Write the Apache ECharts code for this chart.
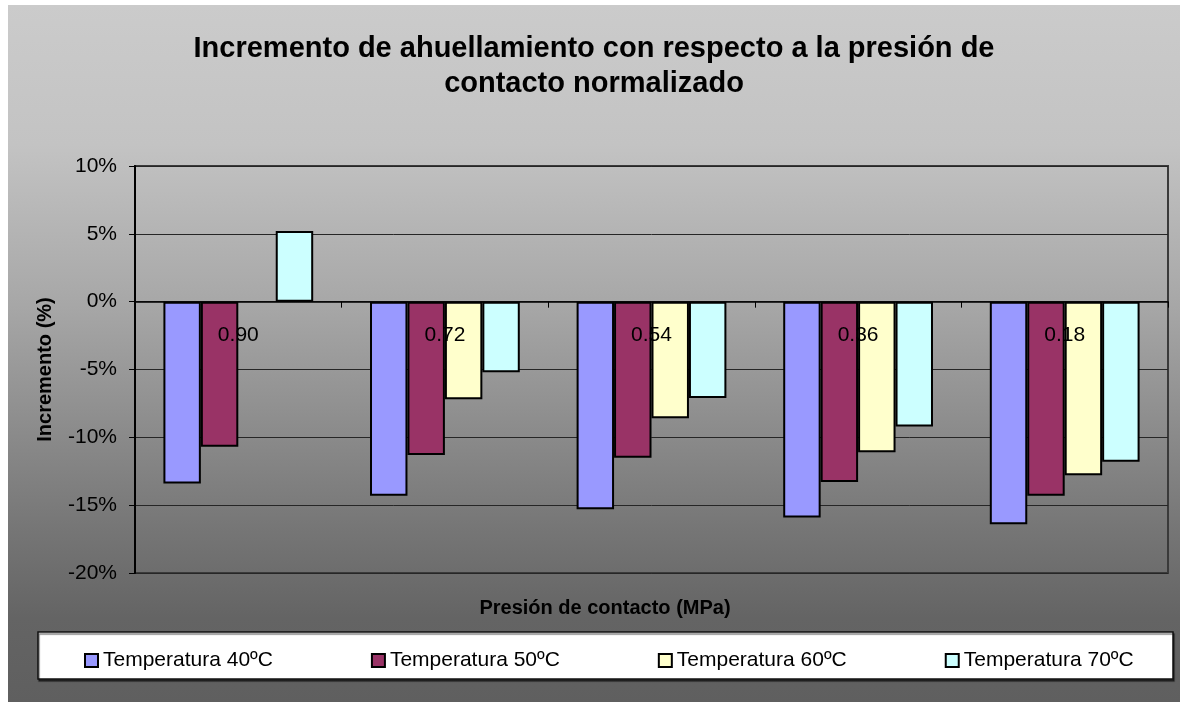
<!DOCTYPE html>
<html>
<head>
<meta charset="utf-8">
<script src="https://cdn.jsdelivr.net/npm/echarts@6/dist/echarts.min.js"></script>
<style>
html,body{margin:0;padding:0;background:#fff;width:1180px;height:702px;overflow:hidden;}
#c{position:absolute;left:8px;top:5px;width:1172px;height:697px;
background:linear-gradient(to bottom,#cbcbcb 0%,#c3c3c3 20%,#a7a7a7 43%,#767676 75%,#646464 88%,#5f5f5f 100%);}
</style>
</head>
<body>
<div id="c"></div>
<script>
var categories = ['0.90', '0.72', '0.54', '0.36', '0.18'];
var seriesNames = ['Temperatura 40ºC', 'Temperatura 50ºC', 'Temperatura 60ºC', 'Temperatura 70ºC'];
var t40 = [-13.4, -14.3, -15.3, -15.9, -16.4];
var t50 = [-10.7, -11.3, -11.5, -13.3, -14.3];
var t60 = [null, -7.2, -8.6, -11.1, -12.8];
var t70 = [5.2, -5.2, -7.1, -9.2, -11.8];
var yTicks = [-20, -15, -10, -5, 0, 5, 10];
var colors = ['#9999FF', '#993366', '#FFFFCC', '#CCFFFF'];

var FONT = '"Liberation Sans", Arial, sans-serif';
var chart = echarts.init(document.getElementById('c'), null, {renderer: 'canvas'});
var allData = [t40, t50, t60, t70];
var series = allData.map(function (d, i) {
  return {
    name: seriesNames[i],
    type: 'bar',
    data: d,
    barGap: '0%',
    barCategoryGap: '27.5%',
    itemStyle: {color: colors[i], borderColor: '#000', borderWidth: 2}
  };
});

chart.setOption({
  animation: false,
  textStyle: {fontFamily: FONT},
  title: {
    text: 'Incremento de ahuellamiento con respecto a la presión de\ncontacto normalizado',
    left: 'center',
    top: 21,
    textStyle: {fontFamily: FONT, fontSize: 29, fontWeight: 'bold', color: '#000', lineHeight: 35}
  },
  graphic: [
    {
      type: 'rect', z: 0,
      shape: {x: 30, y: 627, width: 1135, height: 47},
      style: {fill: '#fff', stroke: '#111', lineWidth: 1.5, shadowColor: 'rgba(0,0,0,0.5)', shadowOffsetX: 1, shadowOffsetY: 2, shadowBlur: 1}
    },
    {
      type: 'text', z: 5,
      x: 597, y: 603,
      style: {text: 'Presión de contacto (MPa)', fontFamily: FONT, fontSize: 20, fontWeight: 'bold', fill: '#000', align: 'center', verticalAlign: 'middle'}
    }
  ],
  legend: {
    data: seriesNames,
    left: 71,
    top: 640,
    itemGap: 98,
    itemWidth: 13,
    itemHeight: 13,
    icon: 'rect',
    itemStyle: {borderColor: '#000', borderWidth: 2},
    textStyle: {fontFamily: FONT, fontSize: 21, color: '#000'},
    z: 10
  },
  grid: {
    left: 127, right: 12, top: 161, bottom: 129,
    show: true, borderColor: '#3a3a3a', borderWidth: 2, backgroundColor: 'transparent',
    containLabel: false
  },
  xAxis: {
    type: 'category',
    data: categories,
    z: 10,
    axisLine: {onZero: true, lineStyle: {color: '#000', width: 1.5}},
    axisTick: {show: true, length: 6, lineStyle: {color: '#000', width: 1}},
    axisLabel: {fontFamily: FONT, fontSize: 21, color: '#000', margin: -248},
    splitLine: {show: false}
  },
  yAxis: {
    type: 'value',
    min: yTicks[0],
    max: yTicks[yTicks.length - 1],
    interval: 5,
    name: 'Incremento (%)',
    nameLocation: 'middle',
    nameGap: 80,
    nameTextStyle: {fontFamily: FONT, fontSize: 20, fontWeight: 'bold', color: '#000'},
    axisLine: {show: true, lineStyle: {color: '#000', width: 2}},
    axisTick: {show: true, length: 6, lineStyle: {color: '#000'}},
    axisLabel: {fontFamily: FONT, fontSize: 21, color: '#000', margin: 18, formatter: function (v) { return v + '%'; }},
    splitLine: {show: true, lineStyle: {color: '#262626', width: 1}}
  },
  series: series
});
</script>
</body>
</html>
